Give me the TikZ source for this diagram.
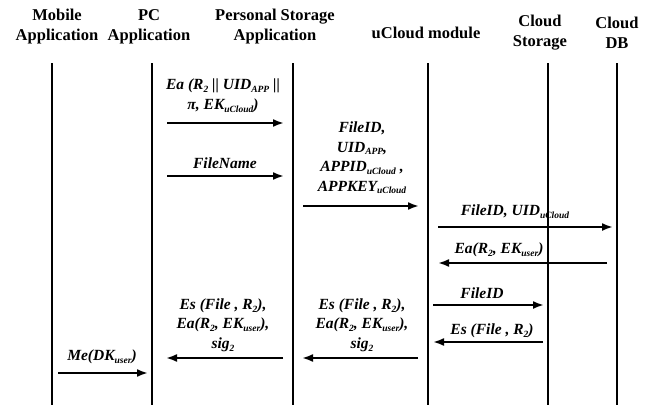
\documentclass[tikz,border=0pt]{standalone}
\usepackage{fontspec}
\setmainfont{Liberation Serif}
\usetikzlibrary{arrows.meta}
% lowered small subscript for message labels
\newcommand\lo[1]{\raisebox{-0.4ex}{\fontsize{9.5}{10}\selectfont #1}}
\begin{document}
\begin{tikzpicture}[x=1pt,y=-1pt,
  head/.style={font=\bfseries\fontsize{16.5}{20}\selectfont, align=center, inner sep=0pt},
  life/.style={line width=2.4pt},
  msg/.style={line width=2pt, -{Latex[length=11pt,width=8pt]}},
  lbl/.style={font=\bfseries\itshape\fontsize{15.5}{19.5}\selectfont, align=center, inner sep=0pt}]
\useasboundingbox (0,0) rectangle (656,405);
\fill[white] (0,0) rectangle (656,405);

% actors
\node[head] (hMob) at (57,27) {Mobile\\Application};
\node[head] (hPC)  at (149,27) {PC\\Application};
\node[head] (hPSA) at (275,27) {Personal Storage\\Application};
\node[head] (hUC)  at (426,33) {uCloud module};
\node[head] (hCS)  at (540,33) {Cloud\\Storage};
\node[head] (hDB)  at (617,33) {Cloud\\DB};

% lifelines
\coordinate (mobT) at (52,63);  \coordinate (mobB) at (52,405);
\coordinate (pcT)  at (152,63); \coordinate (pcB)  at (152,405);
\coordinate (psaT) at (293,63); \coordinate (psaB) at (293,405);
\coordinate (ucT)  at (428,63); \coordinate (ucB)  at (428,405);
\coordinate (csT)  at (548,63); \coordinate (csB)  at (548,405);
\coordinate (dbT)  at (617,63); \coordinate (dbB)  at (617,405);
\foreach \l in {mob,pc,psa,uc,cs,db} \draw[life] (\l T) -- (\l B);

% message end points
\coordinate (m1s) at (167,123); \coordinate (m1e) at (284,123);
\coordinate (m2s) at (167,176); \coordinate (m2e) at (284,176);
\coordinate (m3s) at (303,206); \coordinate (m3e) at (419,206);
\coordinate (m4s) at (438,227); \coordinate (m4e) at (613,227);
\coordinate (m5s) at (607,263); \coordinate (m5e) at (438,263);
\coordinate (m6s) at (433,305); \coordinate (m6e) at (544,305);
\coordinate (m7s) at (543,342); \coordinate (m7e) at (433,342);
\coordinate (m8s) at (418,358); \coordinate (m8e) at (302,358);
\coordinate (m9s) at (283,358); \coordinate (m9e) at (166,358);
\coordinate (m10s) at (58,373); \coordinate (m10e) at (148,373);

\foreach \m in {1,...,10} \draw[msg] (m\m s) -- (m\m e);

% message labels
\node[lbl] (t1) at (223,96) {Ea (R\lo{2} || UID\lo{APP} ||\\π, EK\lo{uCloud})};
\node[lbl] (t2) at (225,163) {FileName};
\node[lbl] (t3) at (362,158) {FileID,\\UID\lo{APP},\\APPID\lo{uCloud} ,\\APPKEY\lo{uCloud}};
\node[lbl] (t4) at (515,212) {FileID, UID\lo{uCloud}};
\node[lbl] (t5) at (499,250) {Ea(R\lo{2}, EK\lo{user})};
\node[lbl] (t6) at (482,293) {FileID};
\node[lbl] (t7) at (492,331) {Es (File , R\lo{2})};
\node[lbl] (t8) at (362,325) {Es (File , R\lo{2}),\\Ea(R\lo{2}, EK\lo{user}),\\sig\lo{2}};
\node[lbl] (t9) at (223,325) {Es (File , R\lo{2}),\\Ea(R\lo{2}, EK\lo{user}),\\sig\lo{2}};
\node[lbl] (t10) at (102,357) {Me(DK\lo{user})};
\end{tikzpicture}
\end{document}
